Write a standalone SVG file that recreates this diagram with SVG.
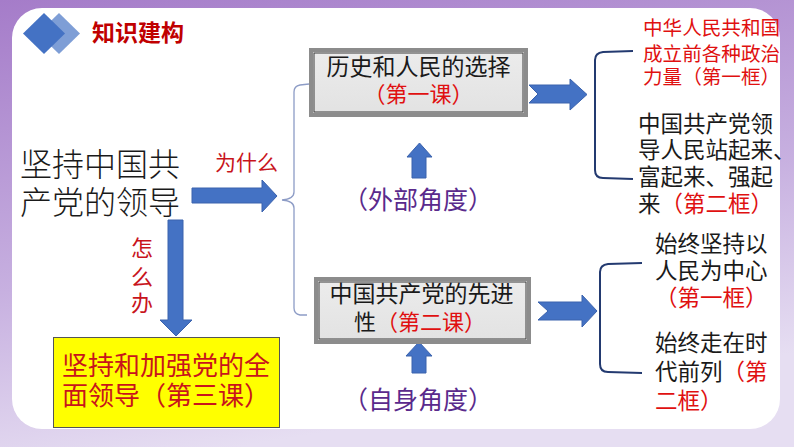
<svg xmlns="http://www.w3.org/2000/svg" width="794" height="447" viewBox="0 0 794 447">
<defs>
<linearGradient id="bg" x1="0" y1="0" x2="0.3" y2="1">
<stop offset="0" stop-color="#a57cc9"/>
<stop offset="0.6" stop-color="#c7b0e0"/>
<stop offset="1" stop-color="#e6def2"/>
</linearGradient>
<linearGradient id="boxfill" x1="0" y1="0" x2="0" y2="1">
<stop offset="0" stop-color="#ececec"/>
<stop offset="1" stop-color="#e2e2e2"/>
</linearGradient>
</defs>
<style>
text{font-family:"Liberation Sans","Noto Sans CJK SC",sans-serif}
.arrow{fill:#4472c4;stroke:#3a62ad;stroke-width:1}
.box{fill:url(#boxfill);stroke:#8c8c8c;stroke-width:4}
.boxin{fill:none;stroke:#3a3a3a;stroke-width:1}
.brk{fill:none;stroke:#233a70;stroke-width:2}
.brace{fill:none;stroke:#8d9cc6;stroke-width:1.3}
.red{fill:#e01010}
.dred{fill:#c8141c}
.blk{fill:#1a1a1a}
.pur{fill:#5a2a8c}
</style>
<rect x="0" y="0" width="794" height="447" fill="url(#bg)"/>
<rect x="12" y="8" width="768" height="421" rx="30" fill="#ffffff"/>
<g id="header">
<polygon points="59,13 80,33.5 59,54 38,33.5" fill="#7e9ed6"/>
<polygon points="44,13 65,33.5 44,54 23,33.5" fill="#4472c4"/>
<text x="92" y="41" font-size="23" font-weight="bold" fill="#c00000">知识建构</text>
</g>
<g id="connectors">
<polygon class="arrow" points="192,188 262,188 262,180 277,196 262,212 262,203 192,203"/>
<polygon class="arrow" points="168,220 183,220 183,320 192,320 176,336 160,320 168,320"/>
<polygon class="arrow" points="529,85 570,85 570,79 587,94.5 570,110 570,103 529,103 538,94"/>
<polygon class="arrow" points="538,302 582,302 582,295 597,311 582,327 582,320 538,320 548,311"/>
<polygon class="arrow" points="412,178 412,157 407,157 419.5,143 432,157 426,157 426,178"/>
<polygon class="arrow" points="412,373 412,356 406,356 419,342 432,356 426,356 426,373"/>
<path class="brace" d="M309,84 L300,85 Q294,86 294,92 L294,192 Q294,199 282,200 Q294,201 294,208 L294,308 Q294,314 300,315 L307,315"/>
<path class="brk" d="M633,51 L603,52 Q595,53 595,60 L595,170 Q595,178 603,178 L633,179"/>
<path class="brk" d="M642,263 L608,264 Q600,265 600,272 L600,364 Q600,372 608,372 L642,373"/>
</g>
<g id="main">
<text class="blk" x="20" y="176" font-size="32" font-weight="300">坚持中国共</text>
<text class="blk" x="20" y="214" font-size="32" font-weight="300">产党的领导</text>
<text class="dred" x="215" y="170" font-size="21">为什么</text>
<text class="dred" x="142" y="256" font-size="22" text-anchor="middle">怎</text>
<text class="dred" x="142" y="285" font-size="22" text-anchor="middle">么</text>
<text class="dred" x="142" y="311" font-size="22" text-anchor="middle">办</text>
</g>
<g id="box-lesson1">
<rect class="box" x="311" y="50" width="215" height="65"/>
<rect class="boxin" x="314" y="53" width="209" height="59"/>
<text class="blk" x="418.5" y="75" font-size="23" text-anchor="middle">历史和人民的选择</text>
<text class="red" x="418.5" y="102" font-size="22" text-anchor="middle">（第一课）</text>
</g>
<g id="label-outer">
<text class="pur" x="418" y="209" font-size="25" text-anchor="middle">（外部角度）</text>
</g>
<g id="box-lesson2">
<rect class="box" x="316" y="279" width="213" height="63"/>
<rect class="boxin" x="319" y="282" width="207" height="57"/>
<text class="blk" x="421.5" y="302" font-size="23" text-anchor="middle">中国共产党的先进</text>
<text x="420" y="330" font-size="22" text-anchor="middle"><tspan class="blk">性</tspan><tspan class="red">（第二课）</tspan></text>
</g>
<g id="label-inner">
<text class="pur" x="418" y="409" font-size="25" text-anchor="middle">（自身角度）</text>
</g>
<g id="box-lesson3">
<rect x="53.5" y="337.5" width="226" height="90" fill="#ffff00" stroke="#555555" stroke-width="1"/>
<text class="dred" x="62" y="375" font-size="26">坚持和加强党的全</text>
<text class="dred" x="62" y="405" font-size="26">面领导（第三课）</text>
</g>
<g id="frames-1">
<text class="red" x="643" y="35" font-size="19.6">中华人民共和国</text>
<text class="red" x="643" y="61" font-size="19.6">成立前各种政治</text>
<text class="red" x="643" y="84" font-size="19.6">力量（第一框）</text>
<text class="blk" x="638" y="132" font-size="22.5">中国共产党领</text>
<text class="blk" x="638" y="158" font-size="22.5">导人民站起来、</text>
<text class="blk" x="638" y="185" font-size="22.5">富起来、强起</text>
<text x="638" y="212" font-size="22.5"><tspan class="blk">来</tspan><tspan class="red">（第二框）</tspan></text>
</g>
<g id="frames-2">
<text class="blk" x="655" y="252" font-size="22.5">始终坚持以</text>
<text class="blk" x="655" y="279" font-size="22.5">人民为中心</text>
<text class="red" x="655" y="306" font-size="22.5">（第一框）</text>
<text class="blk" x="655" y="351" font-size="22.5">始终走在时</text>
<text x="655" y="380" font-size="22.5"><tspan class="blk">代前列</tspan><tspan class="red">（第</tspan></text>
<text class="red" x="655" y="409" font-size="22.5">二框）</text>
</g>
</svg>
